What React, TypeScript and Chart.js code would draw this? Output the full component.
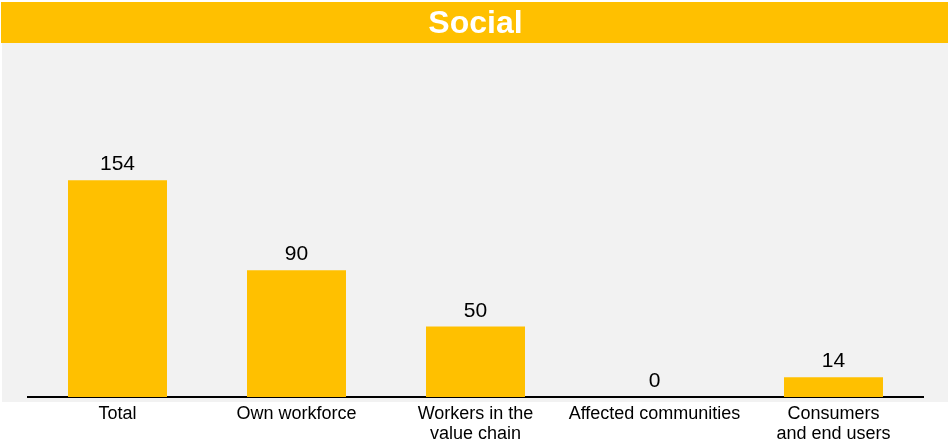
import React, { useEffect, useRef } from "react";
import { Chart, registerables } from "chart.js";

Chart.register(...registerables);

const categories: (string | string[])[] = [
  "Total",
  "Own workforce",
  ["Workers in the", "value chain"],
  "Affected communities",
  ["Consumers", "and end users"],
];
const values: number[] = [154, 90, 50, 0, 14];
const chartTitle = "Social";

const YELLOW = "#FFC000";
const FONT = "Arial, 'Liberation Sans', sans-serif";

const backgroundPlugin = {
  id: "bgPanels",
  beforeDraw(chart: any) {
    const ctx = chart.ctx;
    ctx.save();
    ctx.fillStyle = "#ffffff";
    ctx.fillRect(0, 0, chart.width, chart.height);
    ctx.fillStyle = YELLOW;
    ctx.fillRect(1, 2, 947, 41);
    ctx.fillStyle = "#F2F2F2";
    ctx.fillRect(2, 43, 946, 359);
    ctx.restore();
  },
};

const valueLabelPlugin = {
  id: "valueLabels",
  afterDatasetsDraw(chart: any) {
    const ctx = chart.ctx;
    const meta = chart.getDatasetMeta(0);
    ctx.save();
    ctx.fillStyle = "#000000";
    ctx.font = `21px ${FONT}`;
    ctx.textAlign = "center";
    ctx.textBaseline = "alphabetic";
    meta.data.forEach((bar: any, i: number) => {
      ctx.fillText(String(values[i]), bar.x, bar.y - 10);
    });
    ctx.restore();
  },
};

export default function App() {
  const ref = useRef<HTMLCanvasElement>(null);

  useEffect(() => {
    if (!ref.current) return;
    const chart = new Chart(ref.current, {
      type: "bar",
      data: {
        labels: categories,
        datasets: [
          {
            data: values,
            backgroundColor: YELLOW,
            borderWidth: 0,
            barPercentage: 0.553,
            categoryPercentage: 1,
          },
        ],
      },
      options: {
        animation: false,
        responsive: false,
        maintainAspectRatio: false,
        layout: { padding: { left: 28, right: 27, top: 0, bottom: 0 } },
        plugins: {
          legend: { display: false },
          tooltip: { enabled: false },
          title: {
            display: true,
            text: chartTitle,
            color: "#ffffff",
            font: { family: FONT, size: 32, weight: "bold", lineHeight: 1 },
            padding: { top: 8, bottom: 5 },
          },
        },
        scales: {
          x: {
            grid: { display: false, drawTicks: false },
            border: { display: true, color: "#000000", width: 2 },
            ticks: {
              color: "#000000",
              font: { family: FONT, size: 18, lineHeight: 1.1 },
              padding: 7,
              maxRotation: 0,
              autoSkip: false,
            },
            afterFit: (scale: any) => {
              scale.height = 47;
            },
          },
          y: {
            display: false,
            min: 0,
            max: 250,
          },
        },
      },
      plugins: [backgroundPlugin, valueLabelPlugin],
    });
    return () => chart.destroy();
  }, []);

  return (
    <div style={{ position: "absolute", left: 0, top: 0, width: 950, height: 444 }}>
      <canvas ref={ref} width={950} height={444} style={{ width: 950, height: 444 }} />
    </div>
  );
}
